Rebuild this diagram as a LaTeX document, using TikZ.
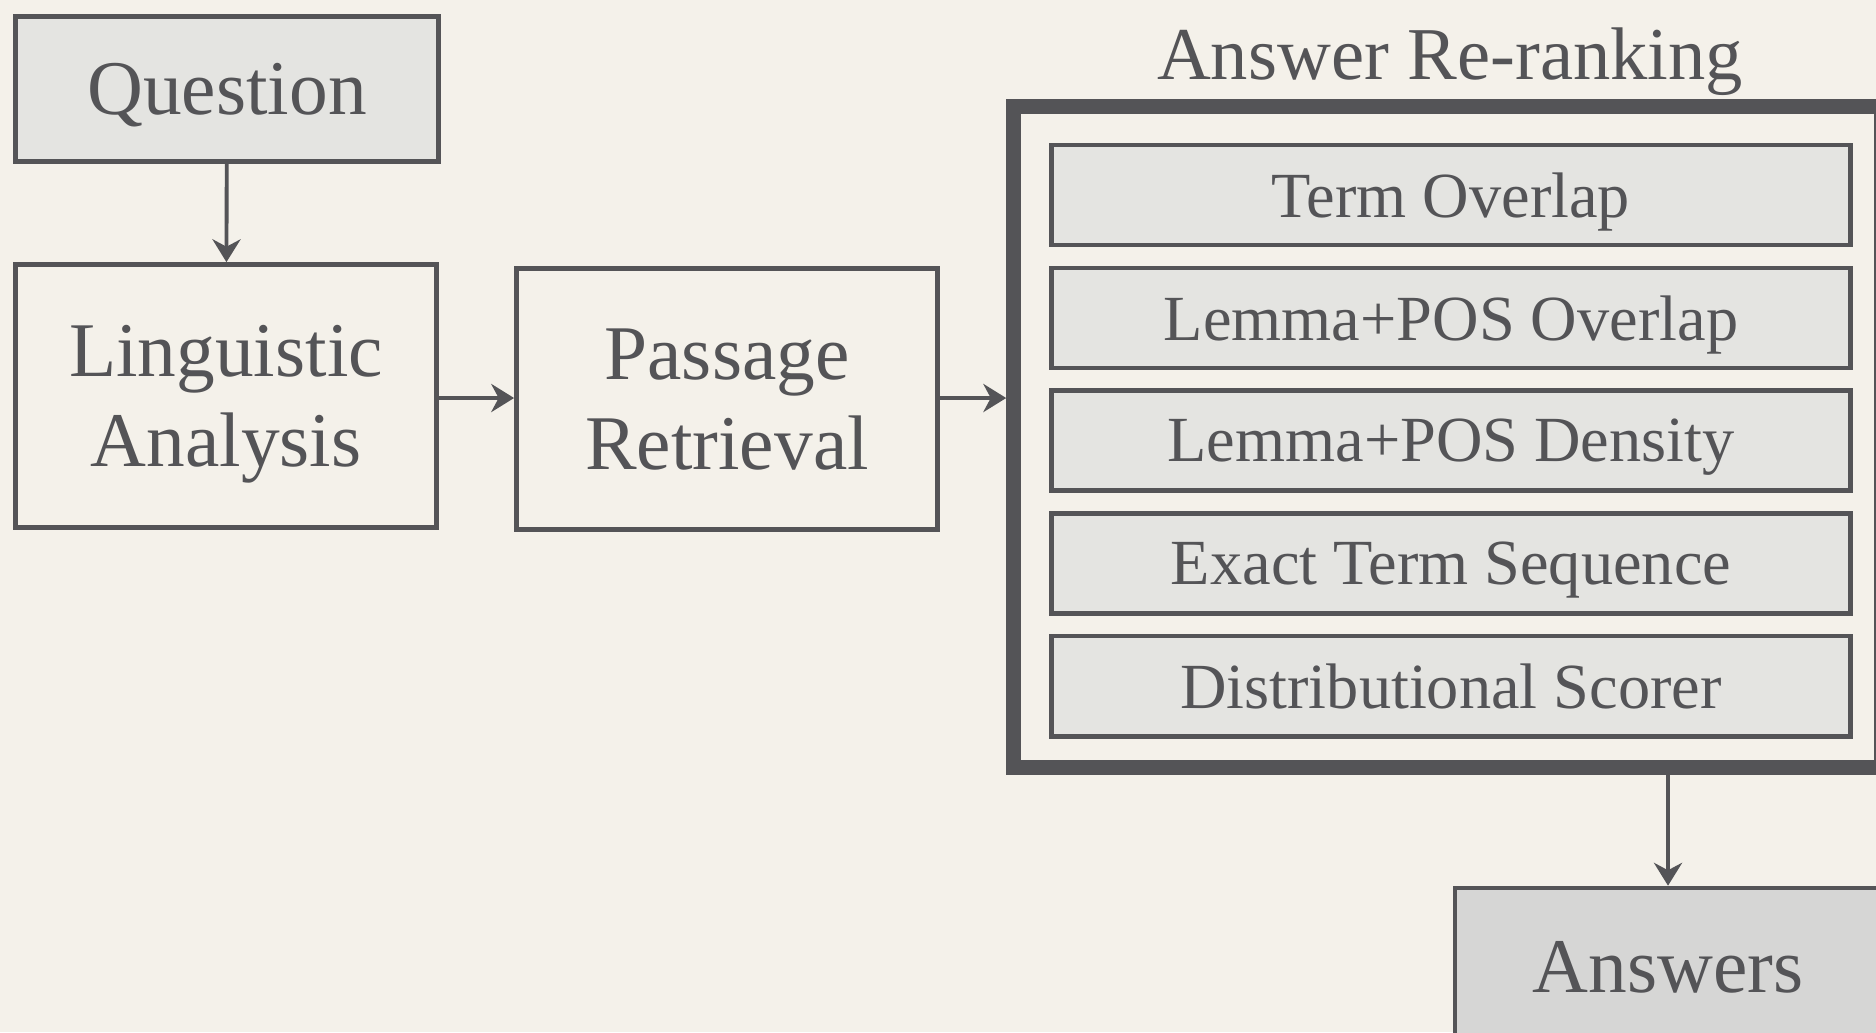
\documentclass[tikz,border=0pt]{standalone}
\usepackage{fontspec}
\setmainfont{Liberation Serif}
\usetikzlibrary{arrows.meta, calc}

\definecolor{ink}{HTML}{545457}
\definecolor{paper}{HTML}{F4F1EA}
\definecolor{boxgray}{HTML}{E4E4E1}
\definecolor{ansgray}{HTML}{D6D6D5}

\tikzset{
    stagebox/.style={draw=ink, line width=1.3pt, text=ink, align=center, inner sep=0pt,
        text depth=0pt, font=\fontsize{22}{25.6}\selectfont},
    scorerbox/.style={stagebox, fill=boxgray, minimum width=7.98cm, minimum height=1cm,
        font=\fontsize{18.3}{20}\selectfont},
    flow/.style={draw=ink, line width=1.1pt, -{Stealth[length=6.5pt,width=8pt]}},
}

\begin{document}
\begin{tikzpicture}[x=0.01cm, y=-0.01cm]
        % Page: 1876 x 1032 px, y grows downwards
        \useasboundingbox (0,0) rectangle (1876,1032);
        \fill[paper] (0,0) rectangle (1876,1032);

        % Pipeline stages
        \node[stagebox, fill=boxgray, minimum width=4.23cm, minimum height=1.45cm] (question) at (227, 89) {Question};
        \node[stagebox, minimum width=4.21cm, minimum height=2.63cm] (ling) at (226, 396) {Linguistic\\Analysis};
        \node[stagebox, minimum width=4.21cm, minimum height=2.61cm] (pass) at (727, 399) {Passage\\Retrieval};

        % Re-ranking block (runs off the right edge)
        \node[draw=ink, line width=4.3pt, minimum width=8.67cm, minimum height=6.6cm] (rerank) at (1447.5, 437) {};
        \node[text=ink, anchor=base, font=\fontsize{21.2}{23}\selectfont] (title) at (1450, 79) {Answer Re-ranking};

        \foreach \lbl [count=\k] in {Term Overlap, Lemma+POS Overlap, Lemma+POS Density,
                Exact Term Sequence, Distributional Scorer} {
            \node[scorerbox] (s\k) at (1451, {195+122.8*(\k-1)}) {\lbl};
        }

        % Output (runs off the bottom right corner)
        \node[stagebox, fill=ansgray, minimum width=4.26cm, minimum height=1.58cm] (answers) at (1668, 967) {Answers};

        % Connectors
        \draw[flow] (question) -- (ling);
        \draw[flow] (ling.east |- 0,398) -- (pass.west |- 0,398);
        \draw[flow] (pass.east |- 0,398) -- (rerank.west |- 0,398);
        \draw[flow] (rerank.south -| answers.north) -- (answers.north);
\end{tikzpicture}
\end{document}
